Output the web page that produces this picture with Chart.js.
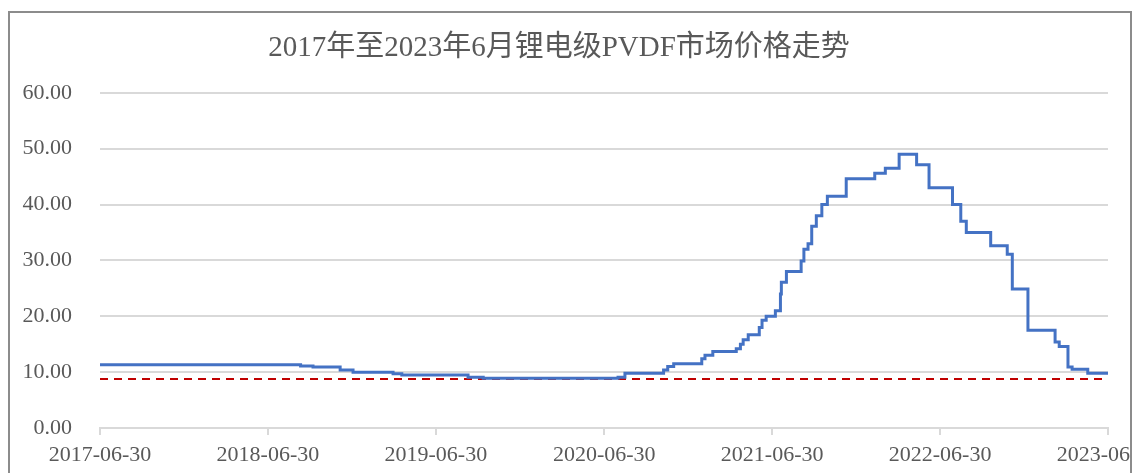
<!DOCTYPE html>
<html>
<head>
<meta charset="utf-8">
<script src="https://cdn.jsdelivr.net/npm/chart.js@4/dist/chart.umd.min.js"></script>
<style>
  body { margin: 0; background: #fff; overflow: hidden; }
  #frame {
    position: absolute; left: 8px; top: 11px;
    width: 1120px; height: 480px;
    border: 2px solid #8c8c8c; overflow: hidden;
  }
  #priceChart { position: absolute; left: 0; top: 0; }
</style>
</head>
<body>
<div id="frame">
  <canvas id="priceChart" width="1160" height="470" style="width:1160px;height:470px"></canvas>
</div>
<script>
// price change points (date the new price starts, price)
const changeDates = [
  '2017-06-30', '2018-09-09', '2018-10-06', '2018-12-04', '2019-01-01', '2019-03-29',
  '2019-04-17', '2019-09-08', '2019-10-11', '2020-07-30', '2020-08-14', '2020-11-06',
  '2020-11-15', '2020-11-28', '2021-01-28', '2021-02-04', '2021-02-21', '2021-04-13',
  '2021-04-22', '2021-04-28', '2021-05-09', '2021-06-02', '2021-06-08', '2021-06-17',
  '2021-07-07', '2021-07-18', '2021-07-20', '2021-07-31', '2021-09-01', '2021-09-07',
  '2021-09-16', '2021-09-24', '2021-10-04', '2021-10-16', '2021-10-28', '2021-12-08',
  '2022-02-08', '2022-03-03', '2022-04-02', '2022-05-10', '2022-06-06', '2022-07-27',
  '2022-08-14', '2022-08-26', '2022-10-18', '2022-11-23', '2022-12-04', '2023-01-07',
  '2023-03-07', '2023-03-16', '2023-04-04', '2023-04-13', '2023-05-17', '2023-06-30'
]
const prices = [
  11.3, 11.1, 10.9, 10.4, 10.0, 9.7,
  9.5, 9.1, 8.9, 9.1, 9.8, 10.4,
  11.0, 11.5, 12.4, 13.0, 13.7, 14.2,
  15.0, 15.8, 16.7, 18.0, 19.3, 20.0,
  21.0, 24.0, 26.1, 28.0, 29.9, 32.0,
  33.0, 36.1, 38.0, 40.0, 41.5, 44.6,
  45.6, 46.5, 49.0, 47.1, 43.0, 40.0,
  37.0, 35.0, 32.6, 31.1, 24.9, 17.5,
  15.4, 14.6, 10.9, 10.5, 9.8, 9.8
]
const tickDates = ['2017-06-30', '2018-06-30', '2019-06-30', '2020-06-30', '2021-06-30', '2022-06-30', '2023-06-30']
const thresholdPrice = 8.75
const titleText = '2017年至2023年6月锂电级PVDF市场价格走势'

const startMs = Date.parse(tickDates[0])
const dayOf = s => (Date.parse(s) - startMs) / 86400000
const endDay = dayOf(tickDates[tickDates.length - 1])

const priceLine = changeDates.map((d, i) => ({ x: dayOf(d), y: prices[i] }))
const refLine = [{ x: 0, y: thresholdPrice }, { x: endDay, y: thresholdPrice }]

const labelColor = '#595959'
const gridColor = '#d9d9d9'
const serif = "'Liberation Serif', 'Noto Sans CJK SC', serif"

const ctx = document.getElementById('priceChart').getContext('2d')
new Chart(ctx, {
  type: 'line',
  data: {
    datasets: [
      {
        data: priceLine,
        borderColor: '#4472c4',
        borderWidth: 3,
        stepped: true,
        pointRadius: 0,
        fill: false
      },
      {
        data: refLine,
        borderColor: '#c00000',
        borderWidth: 2,
        borderDash: [8, 6],
        pointRadius: 0,
        fill: false
      }
    ]
  },
  options: {
    responsive: false,
    animation: false,
    layout: { padding: { left: 0, right: 62, top: 0, bottom: 0 } },
    plugins: {
      legend: { display: false },
      tooltip: { enabled: false },
      title: {
        display: true,
        text: titleText,
        color: labelColor,
        font: { family: serif, size: 29, weight: 'normal', lineHeight: 1.2 },
        padding: { top: 18, bottom: 27 }
      }
    },
    scales: {
      x: {
        type: 'linear',
        min: 0,
        max: endDay,
        afterBuildTicks: scale => {
          scale.ticks = tickDates.map(d => ({ value: dayOf(d) }))
        },
        afterFit: scale => { scale.height = 55 },
        ticks: {
          color: labelColor,
          font: { family: serif, size: 22 },
          padding: 7,
          maxRotation: 0,
          autoSkip: false,
          callback: v => {
            const d = new Date(startMs + v * 86400000)
            return d.toISOString().slice(0, 10)
          }
        },
        grid: {
          drawOnChartArea: false,
          drawTicks: true,
          tickLength: 7,
          color: gridColor,
          lineWidth: 2
        },
        border: { display: true, color: gridColor, width: 2 }
      },
      y: {
        min: 0,
        max: 60,
        afterFit: scale => { scale.width = 90 },
        ticks: {
          stepSize: 10,
          color: labelColor,
          font: { family: serif, size: 22 },
          padding: 28,
          callback: v => v.toFixed(2)
        },
        grid: { color: gridColor, lineWidth: 2, drawTicks: false },
        border: { display: false }
      }
    }
  }
})
</script>
</body>
</html>
